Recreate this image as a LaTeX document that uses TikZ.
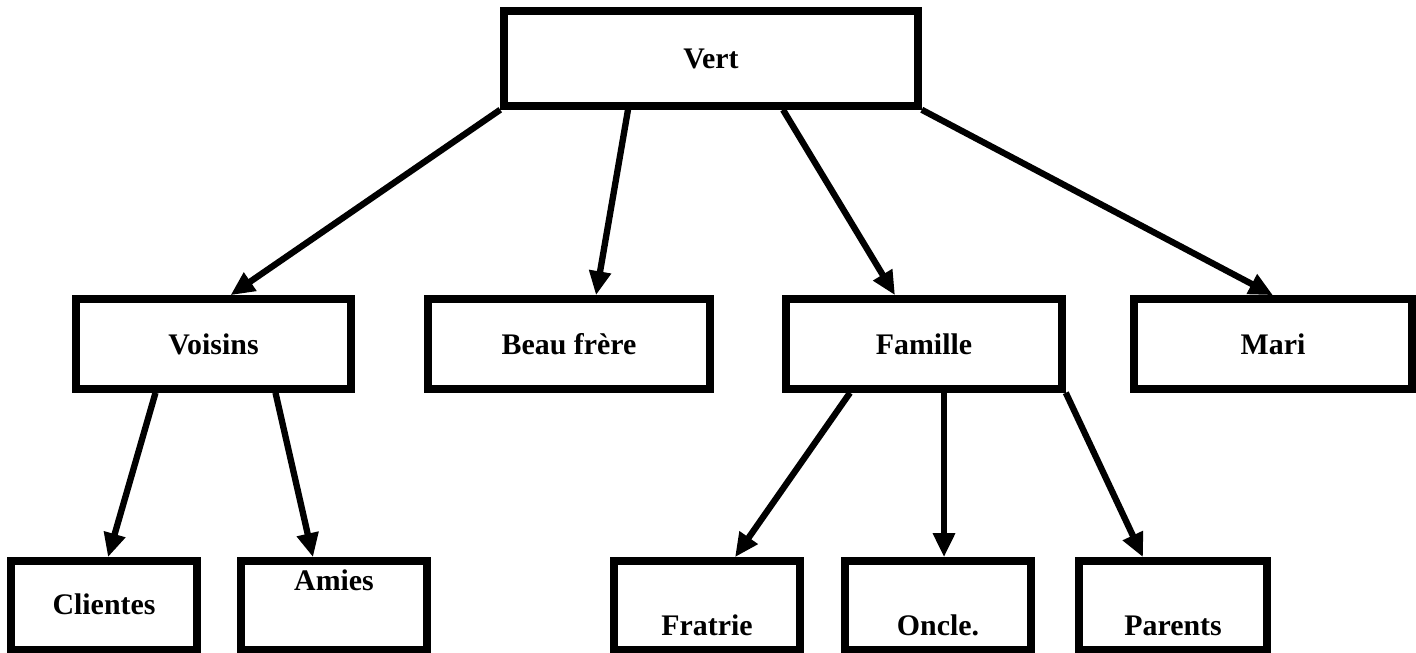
\documentclass[tikz,border=0pt]{standalone}
\usepackage{fontspec}
\setmainfont{Liberation Serif}
\usepackage{tikz}
\usetikzlibrary{arrows.meta}

\begin{document}
\begin{tikzpicture}[
    box/.style={rectangle, draw, line width=4.3pt, inner sep=0pt,
                minimum height=1.8cm, align=center,
                font=\fontsize{17}{20}\selectfont\bfseries},
    leaf/.style={box, minimum width=3.72cm, minimum height=1.78cm},
    low/.style={leaf, text height=1.5cm, text depth=0.28cm},
    mid/.style={leaf, text height=1.08cm, text depth=0.7cm},
    high/.style={leaf, text height=0.6cm, text depth=1.18cm},
    arrow/.style={-{Triangle[length=0.48cm, width=0.42cm]}, line width=3.6pt}
]
\useasboundingbox (0,0) rectangle (28.32,13.06);

%% --- Root ---
\node[box, minimum width=8.28cm, minimum height=1.9cm] (vert) at (14.22,11.89) {Vert};

%% --- Second level ---
\node[box, minimum width=5.5cm]  (voisins) at (4.27,6.18)  {Voisins};
\node[box, minimum width=5.64cm] (beau)    at (11.38,6.18) {Beau fr\`ere};
\node[box, minimum width=5.52cm] (famille) at (18.48,6.18) {Famille};
\node[box, minimum width=5.56cm] (mari)    at (25.46,6.18) {Mari};

%% --- Leaves ---
\node[mid]  (clientes) at (2.08,0.95)  {Clientes};
\node[high] (amies)    at (6.68,0.95)  {Amies};
\node[low]  (fratrie)  at (14.14,0.95) {Fratrie};
\node[low]  (oncle)    at (18.76,0.95) {Oncle.};
\node[low, minimum width=3.76cm] (parents) at (23.46,0.95) {Parents};

%% --- Arrows from root ---
\draw[arrow] (vert.south west) -- ([xshift=0.34cm]voisins.north);
\draw[arrow] ([xshift=-1.66cm]vert.south) -- ([xshift=0.54cm]beau.north);
\draw[arrow] ([xshift=1.44cm]vert.south) -- ([xshift=-0.58cm]famille.north);
\draw[arrow] (vert.south east) -- (mari.north);

%% --- Arrows from Voisins ---
\draw[arrow] ([xshift=-1.16cm]voisins.south) -- ([xshift=0.08cm]clientes.north);
\draw[arrow] ([xshift=1.24cm]voisins.south) -- ([xshift=-0.42cm]amies.north);

%% --- Arrows from Famille ---
\draw[arrow] ([xshift=-1.48cm]famille.south) -- ([xshift=0.56cm]fratrie.north);
\draw[arrow] ([xshift=0.4cm]famille.south) -- ([xshift=0.12cm]oncle.north);
\draw[arrow] (famille.south east) -- ([xshift=-0.6cm]parents.north);

\end{tikzpicture}
\end{document}
